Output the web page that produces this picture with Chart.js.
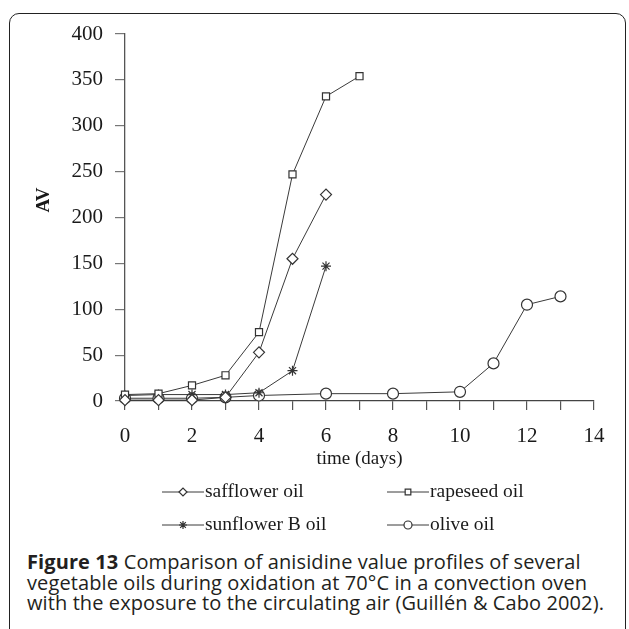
<!DOCTYPE html>
<html>
<head>
<meta charset="utf-8">
<script src="https://cdn.jsdelivr.net/npm/chart.js@4.4.1/dist/chart.umd.min.js"></script>
<style>
  html, body { margin: 0; padding: 0; background: #fff; }
  body { width: 629px; height: 629px; position: relative; overflow: hidden; }
  .frame {
    position: absolute; left: 9px; top: 13px; width: 615px; height: 640px;
    border: 1.5px solid #222; border-radius: 10px;
  }
  #chart { position: absolute; left: 0; top: 0; }
  .caption {
    position: absolute; left: 27px; top: 552px; width: 600px;
    font-family: "Open Sans", sans-serif; font-size: 20px; line-height: 20.5px;
    color: #231f20; white-space: nowrap; letter-spacing: 0.1px;
  }
  .caption b { font-weight: 700; }
</style>
</head>
<body>
<div class="frame"></div>
<canvas id="chart" width="629" height="545"></canvas>
<div class="caption">
  <b>Figure 13</b> Comparison of anisidine value profiles of several<br>
  vegetable oils during oxidation at 70°C in a convection oven<br>
  with the exposure to the circulating air (Guillén &amp; Cabo 2002).
</div>
<script>
// values (AV vs. days)
const safflowerDays = [0, 1, 2, 3, 4, 5, 6];
const safflowerAV = [1, 1, 1, 4, 53, 155, 225];

const rapeseedDays = [0, 1, 2, 3, 4, 5, 6, 7];
const rapeseedAV = [7, 8, 17, 28, 75, 247, 332, 354];

const sunflowerDays = [0, 1, 2, 3, 4, 5, 6];
const sunflowerAV = [6, 7, 7, 7, 9, 33, 147];

const oliveDays = [0, 1, 2, 3, 4, 6, 8, 10, 11, 12, 13];
const oliveAV = [3, 3, 3, 4, 6, 8, 8, 10, 41, 105, 114];

const seriesNames = ['safflower oil', 'rapeseed oil', 'sunflower B oil', 'olive oil'];
const xTickLabels = [0, 2, 4, 6, 8, 10, 12, 14];
const yTickLabels = [0, 50, 100, 150, 200, 250, 300, 350, 400];

const xTitle = 'time (days)';
const yTitle = 'AV';

const ink = '#1a1a1a';
const lineColor = '#3a3a3a';
const serif = '"Liberation Serif", "Times New Roman", serif';

function toPoints(xs, ys) {
    return xs.map((x, i) => ({ x: x, y: ys[i] }));
}

function makeSet(label, xs, ys, style, radius) {
    return {
        label: label,
        data: toPoints(xs, ys),
        borderColor: lineColor,
        borderWidth: 1,
        backgroundColor: '#fff',
        pointStyle: style,
        pointRadius: radius,
        pointBorderWidth: 1.2,
        pointBorderColor: '#333',
        pointBackgroundColor: '#fff',
        tension: 0,
        clip: false
    };
}

// legend laid out in two columns like the original figure, plus axis titles
const annotate = {
    id: 'annotate',
    afterDraw(chart) {
        const ctx = chart.ctx;
        ctx.save();
        ctx.fillStyle = ink;

        // x title
        ctx.font = '19px ' + serif;
        ctx.textAlign = 'center';
        ctx.textBaseline = 'middle';
        ctx.fillText(xTitle, (chart.chartArea.left + chart.chartArea.right) / 2, 459);

        // y title
        ctx.save();
        ctx.translate(44, 200);
        ctx.rotate(-Math.PI / 2);
        ctx.font = 'bold 19px ' + serif;
        ctx.fillText(yTitle, 0, 0);
        ctx.restore();

        // legend
        const cols = [162, 387];
        const rows = [492, 525];
        ctx.font = '19.5px ' + serif;
        ctx.textAlign = 'left';
        chart.data.datasets.forEach((ds, i) => {
            const x0 = cols[i % 2];
            const y0 = rows[Math.floor(i / 2)];
            ctx.strokeStyle = lineColor;
            ctx.lineWidth = 1;
            ctx.beginPath();
            ctx.moveTo(x0, y0);
            ctx.lineTo(x0 + 42, y0);
            ctx.stroke();
            ctx.fillStyle = '#fff';
            ctx.strokeStyle = '#333';
            ctx.lineWidth = 1.2;
            Chart.helpers.drawPoint(ctx, {
                pointStyle: ds.pointStyle,
                radius: 4,
                rotation: 0,
                borderWidth: 1.2
            }, x0 + 21, y0);
            ctx.fillStyle = ink;
            ctx.fillText(ds.label, x0 + 43, y0);
        });
        ctx.restore();
    }
};

new Chart(document.getElementById('chart'), {
    type: 'line',
    data: {
        datasets: [
            makeSet(seriesNames[0], safflowerDays, safflowerAV, 'rectRot', 5.5),
            makeSet(seriesNames[1], rapeseedDays, rapeseedAV, 'rect', 5),
            makeSet(seriesNames[2], sunflowerDays, sunflowerAV, 'star', 5),
            makeSet(seriesNames[3], oliveDays, oliveAV, 'circle', 5.5)
        ]
    },
    options: {
        responsive: false,
        animation: false,
        devicePixelRatio: 1,
        layout: {
            padding: { left: 0, top: 34, right: 35, bottom: 74 }
        },
        plugins: {
            legend: { display: false },
            tooltip: { enabled: false }
        },
        scales: {
            x: {
                type: 'linear',
                min: 0,
                max: 14,
                afterFit: scale => { scale.height = 70; },
                border: { display: true, color: '#444', width: 1.3 },
                grid: {
                    drawOnChartArea: false,
                    drawTicks: true,
                    tickLength: 9,
                    color: '#555',
                    lineWidth: 1.2
                },
                ticks: {
                    stepSize: 1,
                    autoSkip: false,
                    maxRotation: 0,
                    padding: 14,
                    color: ink,
                    font: { family: serif, size: 21 },
                    callback: v => xTickLabels.includes(v) ? String(v) : ''
                }
            },
            y: {
                min: 0,
                max: 400,
                afterFit: scale => { scale.width = 125; },
                border: { display: true, color: '#555', width: 1.3 },
                grid: {
                    drawOnChartArea: false,
                    drawTicks: true,
                    tickLength: 10,
                    color: '#777',
                    lineWidth: 1.2
                },
                ticks: {
                    stepSize: 50,
                    padding: 12,
                    color: ink,
                    font: { family: serif, size: 21 },
                    callback: v => yTickLabels.includes(v) ? String(v) : ''
                }
            }
        }
    },
    plugins: [annotate]
});
</script>
</body>
</html>
